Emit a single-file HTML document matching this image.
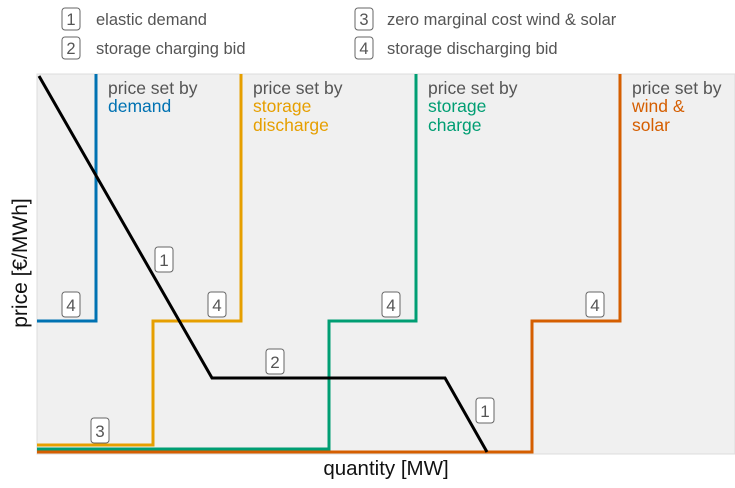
<!DOCTYPE html>
<html><head><meta charset="utf-8"><style>body{margin:0;background:#fff}</style></head><body>
<svg width="735" height="483" viewBox="0 0 735 483" xmlns="http://www.w3.org/2000/svg" font-family="Liberation Sans, sans-serif">
<rect x="37" y="74" width="698" height="380" fill="#f0f0f0" stroke="#ddd" stroke-width="1"/>
<g font-size="16.5" fill="#555">
<rect x="62" y="8" width="18" height="22" rx="3" fill="#fff" stroke="#666"/><text x="71" y="25" text-anchor="middle">1</text>
<text x="96" y="25">elastic demand</text>
<rect x="62" y="37" width="18" height="22" rx="3" fill="#fff" stroke="#666"/><text x="71" y="54" text-anchor="middle">2</text>
<text x="96" y="54">storage charging bid</text>
<rect x="355" y="8" width="18" height="22" rx="3" fill="#fff" stroke="#666"/><text x="364" y="25" text-anchor="middle">3</text>
<text x="387" y="25">zero marginal cost wind &amp; solar</text>
<rect x="355" y="37" width="18" height="22" rx="3" fill="#fff" stroke="#666"/><text x="364" y="54" text-anchor="middle">4</text>
<text x="387" y="54">storage discharging bid</text>
</g>
<g fill="none" stroke-width="3" stroke-linejoin="miter">
<polyline points="37,452 532,452 532,321 620,321 620,74" stroke="#D55E00"/>
<polyline points="37,449 329,449 329,321 416,321 416,74" stroke="#009E73"/>
<polyline points="37,445 153,445 153,321 241,321 241,74" stroke="#E69F00"/>
<polyline points="37,321 96,321 96,74" stroke="#0072B2"/>
<polyline points="39,76 212,378 445,378 487,452" stroke="#000"/>
</g>
<g fill="#555">
<g font-size="17.5">
<text x="108" y="94">price set by</text><text x="108" y="112" fill="#0072B2">demand</text>
<text x="253" y="94">price set by</text><text x="253" y="112" fill="#E69F00">storage</text><text x="253" y="131" fill="#E69F00">discharge</text>
<text x="428" y="94">price set by</text><text x="428" y="112" fill="#009E73">storage</text><text x="428" y="131" fill="#009E73">charge</text>
<text x="632" y="94">price set by</text><text x="632" y="112" fill="#D55E00">wind &amp;</text><text x="632" y="131" fill="#D55E00">solar</text>
</g>
<g font-size="17">
<rect x="62" y="292" width="18" height="25" rx="3" fill="#fff" stroke="#666"/><text x="71" y="311" text-anchor="middle">4</text>
<rect x="208" y="292" width="18" height="25" rx="3" fill="#fff" stroke="#666"/><text x="217" y="311" text-anchor="middle">4</text>
<rect x="382" y="292" width="18" height="25" rx="3" fill="#fff" stroke="#666"/><text x="391" y="311" text-anchor="middle">4</text>
<rect x="586" y="292" width="18" height="25" rx="3" fill="#fff" stroke="#666"/><text x="595" y="311" text-anchor="middle">4</text>
<rect x="155" y="247" width="18" height="25" rx="3" fill="#fff" stroke="#666"/><text x="164" y="266" text-anchor="middle">1</text>
<rect x="266" y="349" width="18" height="25" rx="3" fill="#fff" stroke="#666"/><text x="275" y="368" text-anchor="middle">2</text>
<rect x="91" y="418" width="18" height="25" rx="3" fill="#fff" stroke="#666"/><text x="100" y="437" text-anchor="middle">3</text>
<rect x="476" y="398" width="18" height="25" rx="3" fill="#fff" stroke="#666"/><text x="485" y="417" text-anchor="middle">1</text>
</g>
</g>
<text x="386" y="475" font-size="20.5" text-anchor="middle" fill="#111">quantity [MW]</text>
<text transform="translate(27,263) rotate(-90)" font-size="21" text-anchor="middle" fill="#111">price [€/MWh]</text>
</svg>
</body></html>
